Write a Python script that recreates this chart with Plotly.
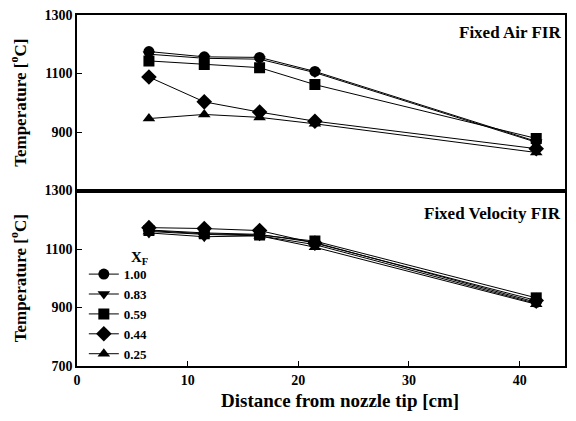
import plotly.graph_objects as go
from plotly.subplots import make_subplots

distance = [6.5, 11.5, 16.5, 21.5, 41.5]
xf_labels = ["1.00", "0.83", "0.59", "0.44", "0.25"]
symbols = ["circle", "triangle-down", "square", "diamond", "triangle-up"]

air_100 = [1175, 1157, 1155, 1107, 868]
air_083 = [1166, 1152, 1149, 1103, 865]
air_059 = [1143, 1131, 1120, 1062, 878]
air_044 = [1088, 1003, 968, 937, 843]
air_025 = [946, 960, 950, 928, 830]

vel_100 = [1165, 1155, 1150, 1122, 918]
vel_083 = [1155, 1142, 1145, 1115, 914]
vel_059 = [1163, 1152, 1148, 1127, 933]
vel_044 = [1173, 1170, 1163, 1120, 924]
vel_025 = [1160, 1150, 1145, 1106, 911]

air = [air_100, air_083, air_059, air_044, air_025]
vel = [vel_100, vel_083, vel_059, vel_044, vel_025]

FONT = "Liberation Serif"

fig = make_subplots(rows=2, cols=1, shared_xaxes=True, vertical_spacing=0)

def msize(s):
    return 12 if s == "diamond" else 11

for i in range(5):
    fig.add_trace(go.Scatter(
        x=distance, y=air[i], mode="lines+markers", name=xf_labels[i],
        line=dict(color="black", width=1),
        marker=dict(symbol=symbols[i], size=msize(symbols[i]), color="black"),
        showlegend=False), row=1, col=1)
for i in range(5):
    fig.add_trace(go.Scatter(
        x=distance, y=vel[i], mode="lines+markers", name=xf_labels[i],
        line=dict(color="black", width=1),
        marker=dict(symbol=symbols[i], size=msize(symbols[i]), color="black"),
        showlegend=True), row=2, col=1)

tickfont = dict(family=FONT, size=14, color="black", weight="bold")
axis_common = dict(showline=True, linecolor="black", linewidth=1.5, mirror=True,
                   showgrid=False, zeroline=False, tickfont=tickfont, automargin=False,
                   ticks="inside", ticklen=5, tickcolor="black")

fig.update_xaxes(range=[0, 44.1], tickvals=[0, 10, 20, 30, 40], **axis_common)
fig.update_xaxes(ticks="", row=1, col=1)
ytitle = dict(text="Temperature [<sup>o</sup>C]",
              font=dict(family=FONT, size=17, color="black", weight="bold"), standoff=14)
fig.update_yaxes(range=[700, 1300], tickvals=[900, 1100, 1300], title=ytitle, **axis_common, row=1, col=1)
fig.update_yaxes(range=[700, 1300], tickvals=[700, 900, 1100, 1300], title=ytitle, **axis_common, row=2, col=1)

fig.add_annotation(text="Distance from nozzle tip [cm]", xref="paper", yref="paper",
                   x=0.539, y=-0.097, xanchor="center", yanchor="middle", showarrow=False,
                   font=dict(family=FONT, size=19, color="black", weight="bold"))
fig.add_annotation(text="X<sub>F</sub>", xref="paper", yref="paper",
                   x=0.129, y=0.307, xanchor="center", yanchor="middle", showarrow=False,
                   font=dict(family=FONT, size=15, color="black", weight="bold"))
fig.add_annotation(text="Fixed Air FIR", xref="x domain", yref="y domain", x=0.995, y=0.9,
                   xanchor="right", yanchor="middle", showarrow=False,
                   font=dict(family=FONT, size=17, color="black", weight="bold"), row=1, col=1)
fig.add_annotation(text="Fixed Velocity FIR", xref="x domain", yref="y domain", x=0.995, y=0.87,
                   xanchor="right", yanchor="middle", showarrow=False,
                   font=dict(family=FONT, size=17, color="black", weight="bold"), row=2, col=1)

fig.update_layout(
    width=576, height=421,
    margin=dict(l=77, r=11, t=15, b=55),
    plot_bgcolor="white", paper_bgcolor="white",
    legend=dict(font=dict(family=FONT, size=13, color="black", weight="bold"),
                x=0.014, y=-0.009, xanchor="left", yanchor="bottom",
                bgcolor="rgba(0,0,0,0)", tracegroupgap=0, itemwidth=30),
)

fig.write_html("out.html", config={"displayModeBar": False},
               post_script="document.body.style.margin='0';document.body.style.overflow='hidden';")
